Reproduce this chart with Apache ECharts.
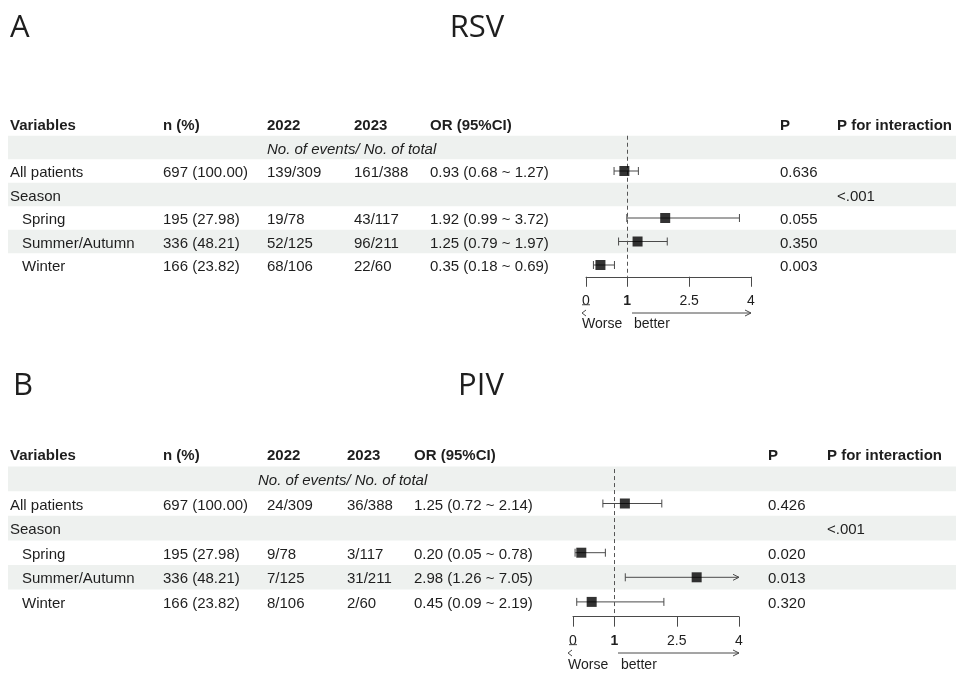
<!DOCTYPE html>
<html>
<head>
<meta charset="utf-8">
<script src="https://cdn.jsdelivr.net/npm/echarts@6/dist/echarts.min.js"></script>
<style>
html,body{margin:0;padding:0;background:#fff;}
#chart{width:956px;height:673px;}
</style>
</head>
<body>
<div id="chart"></div>
<script>
// ---------------- data ----------------
const panelTitles = ['RSV', 'PIV'];
const panelLetters = ['A', 'B'];
const headers = ['Variables', 'n (%)', '2022', '2023', 'OR (95%CI)', 'P', 'P for interaction'];
const subHeader = 'No. of events/ No. of total';
const rowLabels = ['All patients', 'Season', 'Spring', 'Summer/Autumn', 'Winter'];
const rowIndent = [false, false, true, true, true];
const nPct = ['697 (100.00)', '', '195 (27.98)', '336 (48.21)', '166 (23.82)'];

const rsvEv2022 = ['139/309', '', '19/78', '52/125', '68/106'];
const rsvEv2023 = ['161/388', '', '43/117', '96/211', '22/60'];
const rsvOR = [0.93, null, 1.92, 1.25, 0.35];
const rsvLo = [0.68, null, 0.99, 0.79, 0.18];
const rsvHi = [1.27, null, 3.72, 1.97, 0.69];
const rsvP = ['0.636', '', '0.055', '0.350', '0.003'];
const rsvPint = ['', '<.001', '', '', ''];

const pivEv2022 = ['24/309', '', '9/78', '7/125', '8/106'];
const pivEv2023 = ['36/388', '', '3/117', '31/211', '2/60'];
const pivOR = [1.25, null, 0.20, 2.98, 0.45];
const pivLo = [0.72, null, 0.05, 1.26, 0.09];
const pivHi = [2.14, null, 0.78, 7.05, 2.19];
const pivP = ['0.426', '', '0.020', '0.013', '0.320'];
const pivPint = ['', '<.001', '', '', ''];

const axisTicks = [0, 1, 2.5, 4];
const axisMin = 0, axisMax = 4;
const refLine = 1;
const worseLabel = 'Worse';
const betterLabel = 'better';

// ---------------- layout (positions/styles only) ----------------
const FONT = '"Liberation Sans", Arial, Helvetica, sans-serif';
const TXT = '#1e1e1e';
const LINE = '#4a4a4a';
const STRIPE = '#eef1ef';
const TEXT_DY = 2;
const layouts = [
  { grid: {left: 586, width: 165, top: 135.75, height: 141}, yMin: -1.5, yMax: 4.5,
    cols: [10, 163, 267, 354, 430, 780, 837], indentX: 22, subX: 267,
    letter: {x: 10, y: 28}, title: {x: 477, y: 28},
    arrowY: 313, wordsY: 324, worseX: 582, betterX: 634, arrowStart: 632 },
  { grid: {left: 573, width: 166, top: 469.06, height: 147.6}, yMin: -1.4, yMax: 4.6,
    cols: [10, 163, 267, 347, 414, 768, 827], indentX: 22, subX: 258,
    letter: {x: 13, y: 386}, title: {x: 481, y: 386},
    arrowY: 653, wordsY: 665, worseX: 568, betterX: 621, arrowStart: 618 }
];

const panels = [
  {ev22: rsvEv2022, ev23: rsvEv2023, or: rsvOR, lo: rsvLo, hi: rsvHi, p: rsvP, pint: rsvPint},
  {ev22: pivEv2022, ev23: pivEv2023, or: pivOR, lo: pivLo, hi: pivHi, p: pivP, pint: pivPint}
];

const chart = echarts.init(document.getElementById('chart'), null, {renderer: 'canvas'});

const grids = [], xAxes = [], yAxes = [], series = [];
layouts.forEach((L, k) => {
  grids.push(Object.assign({containLabel: false, outerBoundsMode: 'none'}, L.grid));
  xAxes.push({
    type: 'value', gridIndex: k, min: axisMin, max: axisMax, position: 'bottom',
    splitLine: {show: false},
    axisLine: {show: true, onZero: false, lineStyle: {color: LINE, width: 1}},
    axisTick: {show: true, inside: false, length: 10, customValues: axisTicks, lineStyle: {color: LINE}},
    axisLabel: {
      show: true, customValues: axisTicks, margin: 17, color: TXT, fontSize: 14, fontFamily: FONT,
      formatter: v => v === refLine ? '{b|' + v + '}' : String(v),
      rich: {b: {fontWeight: 'bold', fontSize: 14, fontFamily: FONT, color: TXT}}
    }
  });
  yAxes.push({type: 'value', gridIndex: k, min: L.yMin, max: L.yMax, inverse: true, show: false});

  const P = panels[k];
  const ciData = [], ptData = [];
  P.or.forEach((v, i) => {
    if (v == null) return;
    ciData.push([P.lo[i], P.hi[i], i]);
    ptData.push([v, i]);
  });
  series.push({
    type: 'custom', xAxisIndex: k, yAxisIndex: k, data: ciData, clip: false, z: 3,
    encode: {x: [0, 1], y: 2},
    renderItem: (params, api) => {
      const lo = api.value(0), hi = api.value(1), row = api.value(2);
      const hiC = Math.min(hi, axisMax);
      const a = api.coord([lo, row]), b = api.coord([hiC, row]);
      const st = {stroke: LINE, lineWidth: 1, fill: null};
      const cap = 4;
      const ch = [
        {type: 'line', shape: {x1: a[0], y1: a[1], x2: b[0], y2: b[1]}, style: st},
        {type: 'line', shape: {x1: a[0], y1: a[1] - cap, x2: a[0], y2: a[1] + cap}, style: st}
      ];
      if (hi > axisMax) {
        ch.push({type: 'polyline', shape: {points: [[b[0] - 6, b[1] - 3], [b[0], b[1]], [b[0] - 6, b[1] + 3]]}, style: st});
      } else {
        ch.push({type: 'line', shape: {x1: b[0], y1: b[1] - cap, x2: b[0], y2: b[1] + cap}, style: st});
      }
      return {type: 'group', children: ch};
    },
    markLine: {
      silent: true, symbol: ['none', 'none'], label: {show: false},
      lineStyle: {type: [4, 3], color: '#555', width: 1},
      data: [{xAxis: refLine}]
    }
  });
  series.push({
    type: 'scatter', xAxisIndex: k, yAxisIndex: k, data: ptData, symbol: 'rect', symbolSize: 10,
    itemStyle: {color: '#000'}, z: 5, silent: true
  });
});

chart.setOption({
  animation: false,
  backgroundColor: '#fff',
  grid: grids, xAxis: xAxes, yAxis: yAxes, series: series
});

// ---------- table text & decorations, rows placed via the library's y scales ----------
const g = [];
function txt(text, x, y, opt) {
  opt = opt || {};
  g.push({
    type: 'text', z: 10, silent: true,
    style: {
      text: text, x: x, y: y, fill: opt.fill || TXT,
      font: opt.font || ('15px ' + FONT),
      align: opt.align || 'left', textAlign: opt.align || 'left',
      verticalAlign: 'middle', textVerticalAlign: 'middle'
    }
  });
}
function line(x1, y1, x2, y2) {
  g.push({type: 'line', z: 10, silent: true, shape: {x1, y1, x2, y2}, style: {stroke: LINE, lineWidth: 1}});
}
function poly(points) {
  g.push({type: 'polyline', z: 10, silent: true, shape: {points}, style: {stroke: LINE, lineWidth: 1, fill: null}});
}

layouts.forEach((L, k) => {
  const P = panels[k];
  const yOf = i => chart.convertToPixel({gridIndex: k}, [0, i])[1];
  const xOf = v => chart.convertToPixel({gridIndex: k}, [v, 0])[0];
  const rowH = Math.abs(yOf(1) - yOf(0));
  // stripes: sub-header row, Season, Summer/Autumn
  [-1, 1, 3].forEach(i => {
    g.push({type: 'rect', z: -5, silent: true,
      shape: {x: 8, y: yOf(i) - rowH / 2, width: 948, height: rowH},
      style: {fill: STRIPE}});
  });
  // titles
  txt(panelLetters[k], L.letter.x, L.letter.y, {font: '31px "Open Sans", sans-serif'});
  txt(panelTitles[k], L.title.x, L.title.y, {font: '31px "Open Sans", sans-serif', align: 'center'});
  // header
  headers.forEach((h, c) => txt(h, L.cols[c], yOf(-2) + TEXT_DY, {font: 'bold 15px ' + FONT}));
  txt(subHeader, L.subX, yOf(-1) + TEXT_DY, {font: 'italic 15px ' + FONT});
  rowLabels.forEach((lab, i) => {
    const y = yOf(i) + TEXT_DY;
    txt(lab, rowIndent[i] ? L.indentX : L.cols[0], y);
    if (nPct[i]) txt(nPct[i], L.cols[1], y);
    if (P.ev22[i]) txt(P.ev22[i], L.cols[2], y);
    if (P.ev23[i]) txt(P.ev23[i], L.cols[3], y);
    if (P.or[i] != null) txt(P.or[i].toFixed(2) + ' (' + P.lo[i].toFixed(2) + ' ~ ' + P.hi[i].toFixed(2) + ')', L.cols[4], y);
    if (P.p[i]) txt(P.p[i], L.cols[5], y);
    if (P.pint[i]) txt(P.pint[i], L.cols[6], y);
  });
  // underline under the 0 tick label
  const x0 = xOf(axisMin);
  const axisY = yOf(L.yMax);
  line(x0 - 4, axisY + 28, x0 + 4, axisY + 28);
  // direction arrows
  const xEnd = xOf(axisMax);
  line(L.arrowStart, L.arrowY, xEnd, L.arrowY);
  poly([[xEnd - 6, L.arrowY - 3], [xEnd, L.arrowY], [xEnd - 6, L.arrowY + 3]]);
  poly([[L.worseX + 4, L.arrowY - 3], [L.worseX, L.arrowY], [L.worseX + 4, L.arrowY + 3]]);
  txt(worseLabel, L.worseX, L.wordsY, {font: '14px ' + FONT});
  txt(betterLabel, L.betterX, L.wordsY, {font: '14px ' + FONT});
});

chart.setOption({graphic: {elements: g}});
</script>
</body>
</html>
